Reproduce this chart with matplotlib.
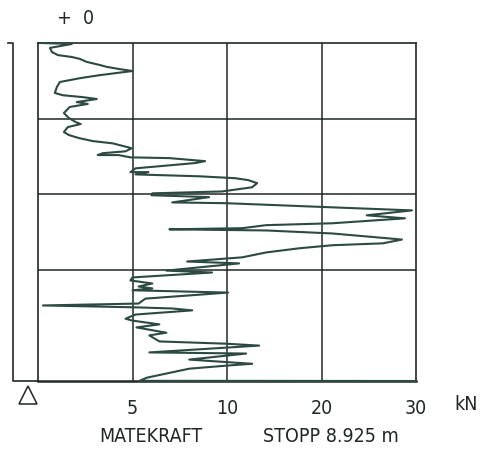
import numpy as np
import matplotlib
matplotlib.use('Agg')
import matplotlib.pyplot as plt
import matplotlib.transforms as mtransforms

# feed force (kN) against depth (m)
force = [0.11, 1.79, 0.63, 0.74, 1.05, 1.79, 2.21, 2.58, 3.26, 3.63, 4.32, 5.0,
         3.26, 2.21, 1.16, 1.0, 0.89, 1.32, 2.37, 3.11, 2.05, 2.63, 1.68, 1.37,
         1.63, 2.0, 2.26, 1.58, 1.37, 1.63, 2.16, 2.89, 3.95, 4.74, 4.95, 4.63,
         3.42, 3.16, 4.26, 4.89, 6.95, 8.84, 8.32, 5.16, 4.89, 5.84, 5.16, 8.53,
         10.85, 12.23, 13.19, 12.66, 9.74, 6.05, 6.0, 9.05, 7.1, 9.95, 21.17,
         29.57, 24.79, 28.83, 21.17, 14.15, 11.6, 6.95, 14.15, 21.17, 28.51,
         26.49, 21.17, 17.66, 14.15, 11.6, 7.89, 11.28, 6.79, 9.21, 5.0, 4.89,
         6.05, 5.32, 6.05, 5.0, 10.11, 5.68, 5.32, 0.26, 5.16, 7.1, 8.16, 5.16,
         4.63, 5.0, 6.42, 5.21, 6.79, 5.89, 6.42, 9.95, 13.4, 5.89, 12.02, 8.0,
         12.66, 9.95, 8.0, 5.74, 5.37, 30.0]
depth = [0.0, 0.026, 0.13, 0.24, 0.32, 0.37, 0.42, 0.50, 0.58, 0.63, 0.69, 0.74,
         0.85, 0.93, 1.03, 1.16, 1.32, 1.38, 1.43, 1.48, 1.56, 1.61, 1.69, 1.85,
         1.98, 2.09, 2.14, 2.22, 2.35, 2.43, 2.51, 2.59, 2.65, 2.75, 2.78, 2.86,
         2.91, 2.96, 2.96, 3.02, 3.04, 3.12, 3.17, 3.31, 3.41, 3.41, 3.47, 3.52,
         3.57, 3.62, 3.70, 3.81, 3.92, 3.97, 4.02, 4.07, 4.21, 4.23, 4.34,
         4.42, 4.55, 4.63, 4.76, 4.81, 4.89, 4.92, 4.95, 5.03, 5.19,
         5.29, 5.34, 5.42, 5.53, 5.66, 5.77, 5.82, 6.01, 6.06, 6.19, 6.27,
         6.35, 6.43, 6.48, 6.53, 6.59, 6.75, 6.88, 6.93, 6.98, 7.01, 7.06, 7.17,
         7.28, 7.33, 7.43, 7.51, 7.65, 7.72, 7.88, 7.94, 7.99, 8.17, 8.20, 8.36,
         8.47, 8.52, 8.60, 8.84, 8.92, 8.925]

xticks = [5, 10, 20, 30]
scale_pts = [0, 5, 10, 20, 30]
depth_grid = [2, 4, 6]
stop_depth = 8.925

ink = '#1f2826'
pen = '#2c4a43'

fig = plt.figure(figsize=(4.83, 4.51), dpi=100)
ax = fig.add_axes([0.0787, 0.1552, 0.7826, 0.7495])

# plotter axis: 0-5-10-20-30 equally spaced
fwd = lambda v: np.interp(v, scale_pts, np.arange(len(scale_pts)))
inv = lambda v: np.interp(v, np.arange(len(scale_pts)), scale_pts)
ax.set_xscale('function', functions=(fwd, inv))
ax.set_xlim(0, 30)
ax.set_ylim(stop_depth, 0)

for v in xticks[:-1]:
    ax.axvline(v, color=ink, lw=1.1, zorder=1)
for d in depth_grid:
    ax.axhline(d, color=ink, lw=1.1, zorder=1)

ax.plot(force, depth, color=pen, lw=1.5, zorder=3, clip_on=False)

for s in ax.spines.values():
    s.set_color(ink)
    s.set_linewidth(1.2)
ax.spines['bottom'].set_linewidth(1.8)

ax.set_xticks(xticks)
ax.set_xticklabels([str(t) for t in xticks])
ax.set_yticks([])
ax.tick_params(axis='x', length=0, pad=13, labelsize=14, labelcolor=ink)
for lab in ax.get_xticklabels():
    lab.set_family('DejaVu Sans')
    lab.set_stretch('condensed')

# depth bar on the left
trans = mtransforms.blended_transform_factory(ax.transAxes, ax.transData)
ax.plot([-0.079, -0.066, -0.066, 0.0], [0, 0, stop_depth, stop_depth],
        color=ink, lw=1.2, transform=trans, clip_on=False)
ax.plot([-0.026], [-0.04], marker='^', ms=13, mfc='white', mec=ink, mew=1.1,
        transform=ax.transAxes, clip_on=False)

txt = dict(family='DejaVu Sans', stretch='condensed', color=ink)
fig.text(0.157, 0.958, '+  0', fontsize=14, ha='center', va='center', **txt)
fig.text(0.965, 0.104, 'kN', fontsize=14, ha='center', va='center', **txt)
fig.text(0.312, 0.033, 'MATEKRAFT', fontsize=14, ha='center', va='center', **txt)
fig.text(0.686, 0.033, 'STOPP 8.925 m', fontsize=14, ha='center', va='center', **txt)

fig.savefig('out.png', dpi=100)
